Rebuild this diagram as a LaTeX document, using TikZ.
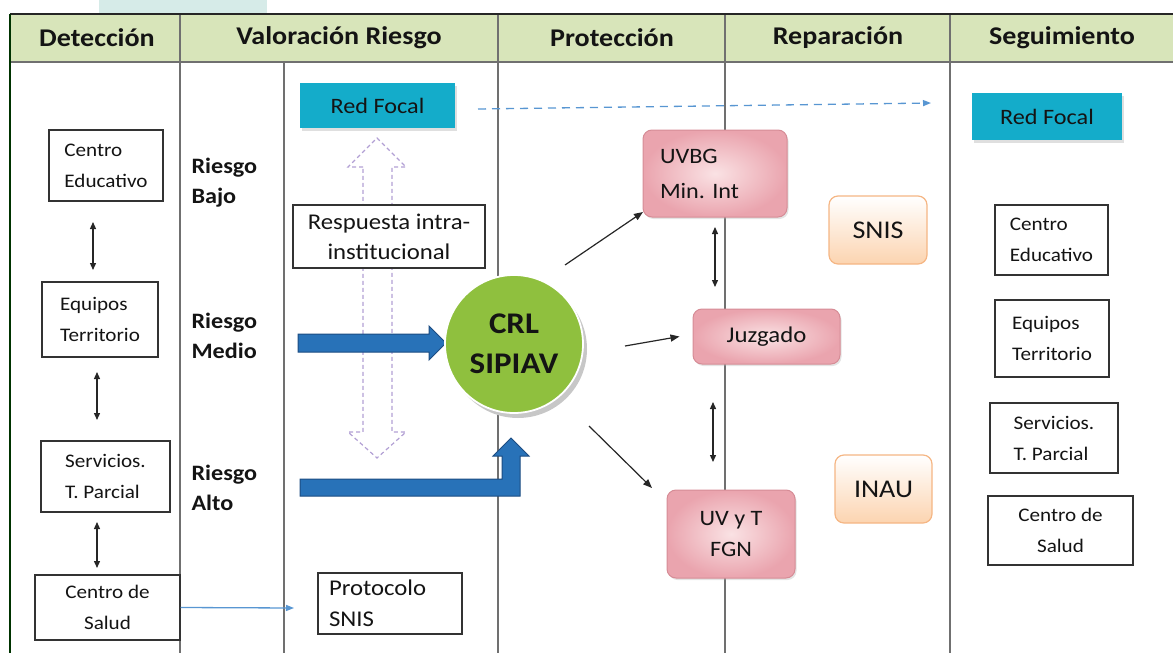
\documentclass[tikz,border=0pt]{standalone}
\usepackage{fontspec}
\setmainfont{Carlito}[FakeStretch=1.1]
\usetikzlibrary{arrows.meta,shapes.geometric,shadows}
\definecolor{hdrgreen}{RGB}{216,229,186}
\definecolor{topteal}{RGB}{214,235,232}
\definecolor{tealbox}{RGB}{20,172,202}
\definecolor{circgreen}{RGB}{143,192,62}
\definecolor{bluefill}{RGB}{40,114,184}
\definecolor{blueedge}{RGB}{28,76,130}
\definecolor{dashblue}{RGB}{88,150,210}
\definecolor{lavender}{RGB}{178,160,212}
\definecolor{pinklight}{RGB}{250,226,228}
\definecolor{pinkdark}{RGB}{234,164,174}
\definecolor{pinkedge}{RGB}{214,140,150}
\definecolor{peach}{RGB}{252,212,176}
\definecolor{peachedge}{RGB}{245,182,132}
\definecolor{gridgray}{RGB}{112,112,112}
\definecolor{txt}{RGB}{20,20,20}
\tikzset{
  gridline/.style={draw=gridgray, line width=2pt},
  hdrtext/.style={font=\fontsize{25.5}{30}\selectfont\bfseries, text=txt},
  smallbox/.style={draw=black!80, line width=1.3pt, fill=white, inner sep=0pt,
    font=\fontsize{19.2}{31}\selectfont, text=txt, align=left},
  riesgo/.style={font=\fontsize{22}{30}\selectfont\bfseries, text=txt, align=left, anchor=west},
  redfocal/.style={fill=tealbox, inner sep=0pt, font=\fontsize{22}{26}\selectfont, text=txt,
    drop shadow={shadow xshift=2pt, shadow yshift=-3pt, fill=black!25, opacity=0.5}},
  pinkbox/.style={rounded corners=9pt, draw=pinkedge, line width=1pt, inner sep=0pt,
    inner color=pinklight, outer color=pinkdark, text=txt,
    drop shadow={shadow xshift=1.5pt, shadow yshift=-2pt, fill=black!30, opacity=0.35}},
  peachbox/.style={rounded corners=9pt, draw=peachedge, line width=1.2pt, inner sep=0pt,
    top color=white, bottom color=peach, text=txt, font=\fontsize{25.5}{30}\selectfont},
  dblarr/.style={{Triangle[width=6pt,length=7pt]}-{Triangle[width=6pt,length=7pt]}, line width=1.3pt, draw=black!85},
  arr/.style={-{Triangle[width=7pt,length=9pt]}, line width=1.2pt, draw=black!85},
  bigarrow/.style={fill=bluefill, draw=blueedge, line width=1pt, line join=miter},
}
\begin{document}
\frenchspacing
\begin{tikzpicture}[x=1pt,y=-1pt]
\useasboundingbox (0,0) rectangle (1173,653);
% top light rectangle
\fill[topteal] (99,0) rectangle (267,14);
% header band
\fill[hdrgreen] (10,14) rectangle (1173,62);
% grid lines
\draw[gridline] (10,62) -- (1173,62);
\foreach \xx in {180,498,725,950} {\draw[gridline] (\xx,14) -- (\xx,653);}
\draw[gridline] (284,62) -- (284,653);
\draw[draw=black!85, line width=2.5pt] (10,14) -- (1173,14);
\draw[draw=black!80!green, line width=2pt] (10,14) -- (10,653);
% header texts
\node[hdrtext] (h1) at (97,38) {Detección};
\node[hdrtext] (h2) at (339,38) {Valoración Riesgo};
\node[hdrtext] (h3) at (612,38) {Protección};
\node[hdrtext] (h4) at (838,38) {Reparación};
\node[hdrtext] (h5) at (1062,38) {Seguimiento};

% Detección boxes
\node[smallbox, minimum width=114, minimum height=71] (ce) at (106,165.5) {Centro\\Educativo};
\node[smallbox, minimum width=116, minimum height=75] (et) at (100,319.5) {Equipos\\Territorio};
\node[smallbox, minimum width=129, minimum height=71] (sp) at (105.5,476.5) {Servicios.\\T. Parcial};
\node[smallbox, minimum width=145, minimum height=65, align=center] (cs) at (107.5,607.5) {Centro de\\Salud};
\coordinate (d1a) at (93,222); \coordinate (d1b) at (93,270);
\coordinate (d2a) at (97,372); \coordinate (d2b) at (97,420);
\coordinate (d3a) at (97,522); \coordinate (d3b) at (97,568);
\draw[dblarr] (d1a) -- (d1b);
\draw[dblarr] (d2a) -- (d2b);
\draw[dblarr] (d3a) -- (d3b);

% Riesgo labels
\node[riesgo] (rb) at (188,183) {Riesgo\\Bajo};
\node[riesgo] (rm) at (188,336) {Riesgo\\Medio};
\node[riesgo] (ra) at (188,488) {Riesgo\\Alto};

% dashed hollow double arrow
\draw[lavender, line width=1.2pt, dash pattern=on 4pt off 3pt, line join=miter]
  (363,167) -- (348,167) -- (377,138) -- (406,167) -- (392,167) -- (392,432)
  -- (406,432) -- (377,458) -- (348,432) -- (363,432) -- cycle;

% Valoración nodes
\node[redfocal, minimum width=155, minimum height=45] (rf1) at (377.5,105.5) {Red Focal};
\node[smallbox, minimum width=192, minimum height=63, align=center, font=\fontsize{22.5}{30}\selectfont] (resp) at (389,236.5) {Respuesta intra-\\institucional};
\node[smallbox, minimum width=144, minimum height=61, text width=122, font=\fontsize{22.5}{31}\selectfont] (proto) at (390,603.5) {Protocolo\\SNIS};
\coordinate (pa) at (294,608);
\draw[-{Triangle[width=6pt,length=8pt]}, draw=dashblue, line width=1.3pt] (cs.east) -- (pa);

% blue big arrows
\draw[bigarrow] (298,334) -- (429,334) -- (429,326) -- (446,343) -- (429,360) -- (429,352) -- (298,352) -- cycle;
\draw[bigarrow] (300,479) -- (502,479) -- (502,456) -- (493,456) -- (511,438) -- (529,456) -- (520,456) -- (520,496) -- (300,496) -- cycle;

% circle
\fill[black!22] (518,349) ellipse [x radius=69, y radius=69];
\node[ellipse, fill=circgreen, draw=white, line width=1.8pt, minimum width=138, minimum height=138, inner sep=0pt] (crl) at (514,344) {};
\node[align=center, font=\fontsize{30}{40}\selectfont\bfseries, text=txt] (crltxt) at (crl.center) {CRL\\SIPIAV};

% dashed blue connector
\coordinate (dbs) at (478,109);
\coordinate (dbe) at (931,103);
\draw[-{Triangle[width=6pt,length=8pt]}, draw=dashblue, line width=1.3pt, dash pattern=on 8pt off 6pt] (dbs) -- (dbe);

% Protección / Reparación nodes
\node[pinkbox, minimum width=144, minimum height=87, text width=110, align=left, font=\fontsize{22}{35}\selectfont] (uvbg) at (715,173.5) {UVBG\\Min. Int};
\node[pinkbox, minimum width=147, minimum height=55, font=\fontsize{22.5}{26}\selectfont] (juz) at (766.5,336.5) {Juzgado};
\node[pinkbox, minimum width=128, minimum height=88, align=center, font=\fontsize{22}{31}\selectfont] (uvt) at (731,534) {UV y T\\FGN};
\node[peachbox, minimum width=98, minimum height=68] (snis) at (878,230) {SNIS};
\node[peachbox, minimum width=97, minimum height=68] (inau) at (883.5,489) {INAU};

\coordinate (c1) at (565,265);
\coordinate (c2) at (625,346);
\coordinate (c3) at (589,426);
\coordinate (t1) at (643,212);
\coordinate (t3) at (652,488);
\draw[arr] (c1) -- (t1);
\draw[arr] (c2) -- ([xshift=-13pt]juz.west);
\draw[arr] (c3) -- (t3);
\coordinate (r1a) at (715,227); \coordinate (r1b) at (715,287);
\coordinate (r2a) at (713,402); \coordinate (r2b) at (713,462);
\draw[dblarr] (r1a) -- (r1b);
\draw[dblarr] (r2a) -- (r2b);

% Seguimiento
\node[redfocal, minimum width=150, minimum height=47] (rf2) at (1047,116.5) {Red Focal};
\node[smallbox, minimum width=113, minimum height=70] (ce2) at (1051.5,240) {Centro\\Educativo};
\node[smallbox, minimum width=114, minimum height=77] (et2) at (1052,338.5) {Equipos\\Territorio};
\node[smallbox, minimum width=128, minimum height=70] (sp2) at (1054,438) {Servicios.\\T. Parcial};
\node[smallbox, minimum width=145, minimum height=69, align=center] (cs2) at (1060.5,530.5) {Centro de\\Salud};
\end{tikzpicture}
\end{document}
